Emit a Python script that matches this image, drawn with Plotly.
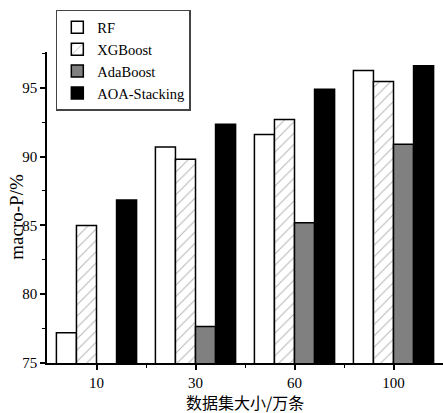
import plotly.graph_objects as go

categories = ["10", "30", "60", "100"]
rf = [77.2, 90.7, 91.6, 96.25]
xgboost = [85.0, 89.8, 92.7, 95.45]
adaboost = [None, 77.65, 85.2, 90.9]
aoa_stacking = [86.85, 92.35, 94.9, 96.6]

xpos = list(range(len(categories)))

fig = go.Figure()
line = dict(color="black", width=1.5)
fig.add_trace(go.Bar(name="RF", x=xpos, y=rf,
                     marker=dict(color="white", line=line)))
fig.add_trace(go.Bar(name="XGBoost", x=xpos, y=xgboost,
                     marker=dict(color="white", line=line,
                                 pattern=dict(shape="/", fgcolor="#666666", bgcolor="white",
                                              size=8, solidity=0.12))))
fig.add_trace(go.Bar(name="AdaBoost", x=xpos, y=adaboost,
                     marker=dict(color="#808080", line=line)))
fig.add_trace(go.Bar(name="AOA-Stacking", x=xpos, y=aoa_stacking,
                     marker=dict(color="black", line=line)))

serif = "Liberation Serif, Times New Roman, serif"
fig.update_layout(
    width=443, height=413,
    margin=dict(l=47, r=0, t=52, b=50, autoexpand=False),
    paper_bgcolor="white", plot_bgcolor="white",
    barmode="group", bargap=0.19, bargroupgap=0,
    font=dict(family=serif, size=15, color="black"),
    showlegend=True,
    legend=dict(xref="container", yref="container", x=0.126, y=0.976,
                xanchor="left", yanchor="top",
                bordercolor="#444444", borderwidth=1.5, bgcolor="white",
                font=dict(family=serif, size=14.5), tracegroupgap=0,
                itemwidth=30),
    xaxis=dict(range=[-0.5, 3.5], showline=True, linecolor="black", linewidth=1.5,
               tickmode="array", tickvals=xpos, ticktext=categories,
               ticks="outside", ticklen=5, tickwidth=1.5, tickcolor="black",
               minor=dict(tickmode="array", tickvals=[0.5, 1.5, 2.5],
                          ticks="outside", ticklen=3, tickwidth=1, tickcolor="black"),
               tickfont=dict(family=serif, size=15), showgrid=False, zeroline=False),
    yaxis=dict(range=[75, 97.6], showline=True, linecolor="black", linewidth=1.5,
               tick0=75, dtick=5, ticks="outside", ticklen=5, tickwidth=1.5, tickcolor="black",
               minor=dict(dtick=2.5, ticks="outside", ticklen=3, tickwidth=1, tickcolor="black"),
               tickfont=dict(family=serif, size=15), showgrid=False, zeroline=False),
    annotations=[
        dict(text="数据集大小/万条", xref="paper", yref="paper", x=0.5, y=-0.127,
             xanchor="center", yanchor="middle", showarrow=False,
             font=dict(family="Noto Sans CJK SC", size=16)),
        dict(text="macro-P/%", xref="paper", yref="paper", x=-0.076, y=0.47,
             xanchor="center", yanchor="middle", textangle=-90, showarrow=False,
             font=dict(family=serif, size=19)),
    ],
)

fig.write_html("out.html", config={"displayModeBar": False},
               post_script="document.body.style.margin='0';")
